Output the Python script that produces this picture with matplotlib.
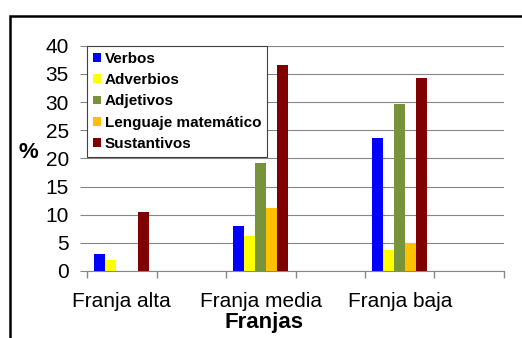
import numpy as np
import matplotlib.pyplot as plt
from matplotlib.patches import Rectangle

plt.rcParams['font.family'] = ['Liberation Sans', 'DejaVu Sans']

# Categories (empty slots are part of the original axis)
franjas = ['Franja alta', '', 'Franja media', '', 'Franja baja', '']
series = ['Verbos', 'Adverbios', 'Adjetivos', 'Lenguaje matemático', 'Sustantivos']
verbos = [3.0, 0, 8.0, 0, 23.6, 0]
adverbios = [2.0, 0, 6.2, 0, 3.7, 0]
adjetivos = [0, 0, 19.2, 0, 29.7, 0]
lenguaje = [0, 0, 11.2, 0, 5.0, 0]
sustantivos = [10.4, 0, 36.5, 0, 34.3, 0]
colors = ['#0000FF', '#FFFF00', '#77933C', '#FFC000', '#800000']

values = [verbos, adverbios, adjetivos, lenguaje, sustantivos]

fig = plt.figure(figsize=(5.22, 3.38), dpi=100)
ax = fig.add_axes([87 / 522, 1 - 271 / 338, (504 - 87) / 522, (271 - 45.7) / 338])

x = np.arange(len(franjas))
w = 0.157
for i, (name, vals, c) in enumerate(zip(series, values, colors)):
    ax.bar(x + (i - 2) * w, vals, width=w, color=c, label=name, zorder=3)

ax.set_xlim(-0.5, len(franjas) - 0.5)
ax.set_ylim(0, 40)
ax.set_yticks(range(0, 41, 5))
ax.set_xticks(x)
ax.set_xticklabels(franjas, fontsize=15)
ax.set_xticks(np.arange(-0.5, len(franjas)), minor=True)
ax.tick_params(axis='x', which='major', length=0, pad=15)
ax.tick_params(axis='x', which='minor', length=5, color='#868686', width=1)
ax.tick_params(axis='y', length=5, color='#868686', labelsize=15, pad=8)
ax.grid(axis='y', color='#868686', linewidth=0.8, zorder=0)

for s in ['top', 'right', 'left']:
    ax.spines[s].set_visible(False)
ax.spines['bottom'].set_color('#868686')

ax.set_xlabel('Franjas', fontsize=16, fontweight='bold')
ax.xaxis.set_label_coords((264 - 87) / 417, (271 - 312) / 225.3)
fig.text(28 / 522, 1 - 152 / 338, '%', fontsize=16, fontweight='bold', ha='center', va='center')

leg = ax.legend(loc='upper left', bbox_to_anchor=(0.0, 1.0), frameon=True,
                fancybox=False, edgecolor='#404040', framealpha=1,
                prop={'weight': 'bold', 'size': 11},
                handlelength=0.5, handleheight=0.5, handletextpad=0.25,
                borderaxespad=0, borderpad=0.4, labelspacing=0.48)
leg.get_frame().set_linewidth(0.8)

# outer chart border
fig.patches.append(Rectangle((10 / 522, -0.1), 1.2, 1 - 16 / 338 + 0.1, transform=fig.transFigure,
                             fill=False, edgecolor='black', linewidth=1.8))

fig.savefig('out.png', dpi=100)
